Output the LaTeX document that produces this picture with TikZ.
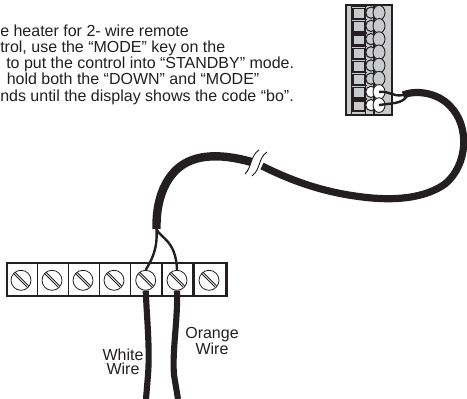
\documentclass[tikz,border=0pt]{standalone}
\usepackage{fontspec}
\usetikzlibrary{shapes.geometric}
\setmainfont{Liberation Sans}
\definecolor{inkblack}{HTML}{231F20}
\definecolor{blockgray}{HTML}{C8CACB}
\tikzset{
  px/.style={x=0.75pt,y=-0.75pt},
  note/.style={anchor=base west,inner sep=0pt,text=inkblack,font=\fontsize{12}{12}\selectfont},
  wirelabel/.style={align=center,inner sep=0pt,text=inkblack,font=\fontsize{12}{10.9}\selectfont},
  screw/.style={circle,draw=inkblack,fill=white,line width=0.6pt,minimum size=15pt,inner sep=0pt},
  cell/.style={rectangle,draw=inkblack,fill=white,line width=0.9pt,minimum width=23.2pt,minimum height=24.6pt,inner sep=0pt},
  cable/.style={draw=inkblack,line width=5.4pt},
  wire/.style={draw=inkblack,line width=1.8pt},
  leadwire/.style={draw=inkblack,line width=4.6pt},
}
\begin{document}
\begin{tikzpicture}[px]
\useasboundingbox (0,0) rectangle (467,399);
% instruction text
\node[note] (l1) at (0,36.7) {e heater for 2- wire remote};
\node[note] (l2) at (0,52.7) {trol, use the “MODE” key on the};
\node[note] (l3) at (6,68.7) {to put the control into “STANDBY” mode.};
\node[note] (l4) at (6.5,85) {hold both the “DOWN” and “MODE”};
\node[note] (l5) at (0,101.7) {nds until the display shows the code “bo”.};
% top terminal block
\node[rectangle,draw=inkblack,fill=blockgray,line width=0.9pt,minimum width=34.5pt,minimum height=82.5pt,inner sep=0pt] (block) at (369,60) {};
\draw[inkblack,line width=0.7pt] (351,5)--(351,115);
\draw[inkblack,line width=1.4pt] (365.5,5)--(365.5,115);
\draw[inkblack,line width=0.9pt] (374,5)--(374,115);
\foreach \n/\y in {1/12.7,2/25.9,3/39.1,4/52.3,5/65.5,6/78.7,7/91.9,8/105.1}{
  \node[rectangle,draw=inkblack,fill=blockgray,line width=0.9pt,minimum width=9pt,minimum height=7.5pt,inner sep=0pt] (pin\n) at (359,\y+1) {};
  \draw[inkblack,line width=0.9pt] (352,\y-6)--(367,\y-6);
}
\foreach \n/\y/\c in {1/12.7/blockgray,2/25.9/blockgray,3/39.1/blockgray,4/52.3/blockgray,5/65.5/blockgray,6/78.7/blockgray,7/91.9/white,8/105.1/white}{
  \node[ellipse,draw=inkblack,fill=\c,line width=0.8pt,minimum width=8pt,minimum height=8.5pt,inner sep=0pt] (nut\n) at (371,\y) {};
  \node[ellipse,draw=inkblack,fill=\c,line width=0.7pt,minimum width=9pt,minimum height=11pt,inner sep=0pt] (lug\n) at (379,\y) {};
}
% cable, top part
\coordinate (topend) at (403,95);
\coordinate (breakright) at (262,166);
\coordinate (breakleft) at (255,163);
\coordinate (botend) at (156.5,229);
\path[cable,line cap=butt] (topend) .. controls (415,90) and (437,92) .. (450,106) .. controls (470,126) and (468,165) .. (445,184) .. controls (425,198) and (395,202) .. (355,196) .. controls (320,191) and (290,180) .. (breakright);
\path[cable,line width=6.3pt] (breakleft) .. controls (225,154) and (195,152) .. (176,170) .. controls (162,184) and (156,205) .. (botend);
% break mark
\fill[white] (245,174) .. controls (252,167) and (250,156) .. (259,150) -- (267,152) .. controls (258,158) and (261,169) .. (252,176) -- cycle;
\draw[inkblack,line width=0.7pt] (245,174) .. controls (252,167) and (250,156) .. (259,150);
\draw[inkblack,line width=0.7pt] (252,176) .. controls (261,169) and (258,158) .. (267,152);
% bottom terminal strip
\foreach \n/\x in {1/22.5,2/53.3,3/84,4/115,5/146.2,6/177.5,7/210}{
  \node[cell] (cell\n) at (\x,279.5) {};
}
\draw[inkblack,line width=0.9pt] (7,263) rectangle (227,296);
\foreach \n/\x in {1/21,2/52,3/83,4/114,5/145.7,6/177,7/209}{
  \node[screw] (scr\n) at (\x,280.3) {};
  \draw[inkblack,line width=0.6pt] (\x-7.6,273.4)--(\x+6.2,287.2);
  \draw[inkblack,line width=0.6pt] (\x-6.2,272)--(\x+7.6,285.8);
}
% wires
\draw[wire] (botend) .. controls (157,240) and (157,252) .. (scr5.north);
\draw[wire] (botend) .. controls (160,238) and (176,240) .. (scr6.north);
\coordinate (wend5) at (146,399);
\coordinate (wend6) at (178,399);
\draw[leadwire] (scr5.south) .. controls (147,320) and (150,350) .. (148,375) -- (wend5);
\draw[leadwire] (scr6.south) .. controls (178,320) and (172,350) .. (174,375) -- (wend6);
\draw[wire] (lug7.center) .. controls (390,91) and (393,97) .. (topend);
\draw[wire] (lug8.center) .. controls (392,103) and (402,104) .. (407,96);
% labels
\node[wirelabel] (white) at (123,362) {White\\Wire};
\node[wirelabel] (orange) at (212,341) {Orange\\Wire};
\end{tikzpicture}
\end{document}
